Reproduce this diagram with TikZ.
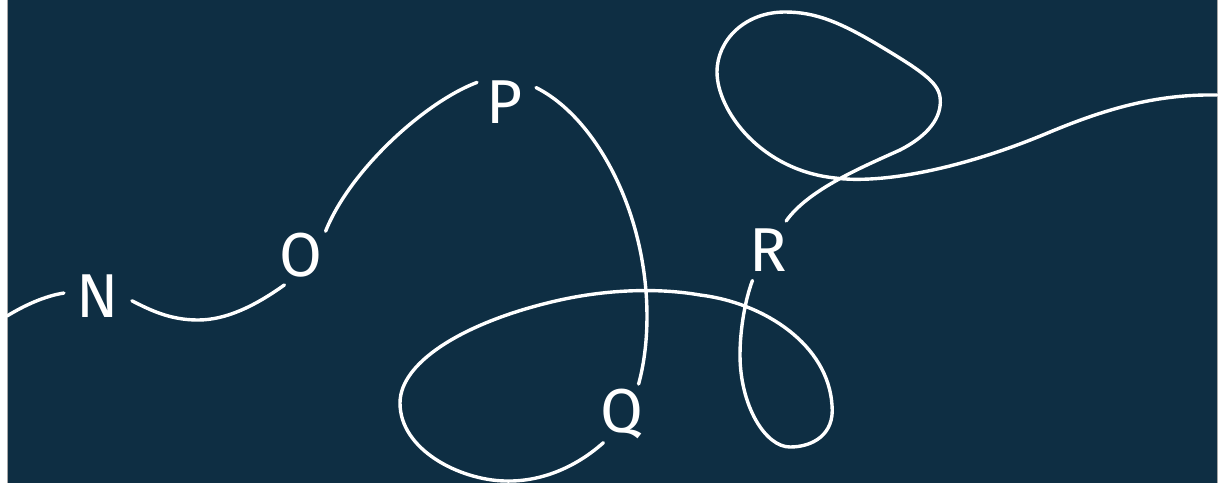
\documentclass[tikz,border=0pt]{standalone}
\usepackage{fontspec}
\setmainfont{Fira Sans}
\definecolor{navy}{HTML}{0E2E43}
\tikzset{strand/.style={white,line width=3.4pt,line cap=round,line join=round},
letter/.style={circle,minimum size=68pt,inner sep=0pt,text=white,font=\fontsize{62}{62}\selectfont}}

\begin{document}
\begin{tikzpicture}[x=1pt,y=-1pt]
\useasboundingbox (0,0) rectangle (1223,483);
\fill[navy] (7,0) rectangle (1217,483);\draw[gray!70,line width=1pt] (7,0)--(7,483) (1217,0)--(1217,483);
\node[letter] (n) at (98,296){N};\node[letter] (o) at (301,255){O};\node[letter] (p) at (505,102){P};
\node[letter] (q) at (622,414){Q};\node[letter] (r) at (768,250){R};
\coordinate (west) at (7,316);\coordinate (east) at (1217,95);
\draw[strand] (west) .. controls (25,305) and (45,296) .. (n.175);
\draw[strand] (n.-8) .. controls (150,310) and (170,320) .. (198,320) .. controls (226,320) and (255,306) .. (o.-119);
\draw[strand] (o.44) .. controls (350,170) and (425,102) .. (p.145);
\draw[strand] (p.25) .. controls (585,112) and (628,180) .. (642,260) .. controls (650,305) and (648,350) .. (q.61);
% lower loops
\draw[strand] (q.-123) .. controls (575,468) and (540,482) .. (505,481) .. controls (460,480) and (400,450) .. (400,403)
  .. controls (400,360) and (470,320) .. (560,300) .. controls (610,289) and (660,288) .. (700,295)
  .. controls (765,303) and (828,345) .. (832,405) .. controls (835,435) and (812,447) .. (790,447)
  .. controls (765,447) and (740,405) .. (740,355) .. controls (740,330) and (745,300) .. (r.-117);
% upper loop and tail
\draw[strand] (r.58) .. controls (808,190) and (860,168) .. (900,150) .. controls (935,132) and (942,112) .. (940,97)
  .. controls (938,82) and (920,70) .. (880,46) .. controls (840,22) and (815,12) .. (785,12)
  .. controls (745,12) and (717,40) .. (717,72) .. controls (717,110) and (760,170) .. (835,178)
  .. controls (880,184) and (960,170) .. (1050,132) .. controls (1110,107) and (1160,94) .. (east);
\end{tikzpicture}
\end{document}
